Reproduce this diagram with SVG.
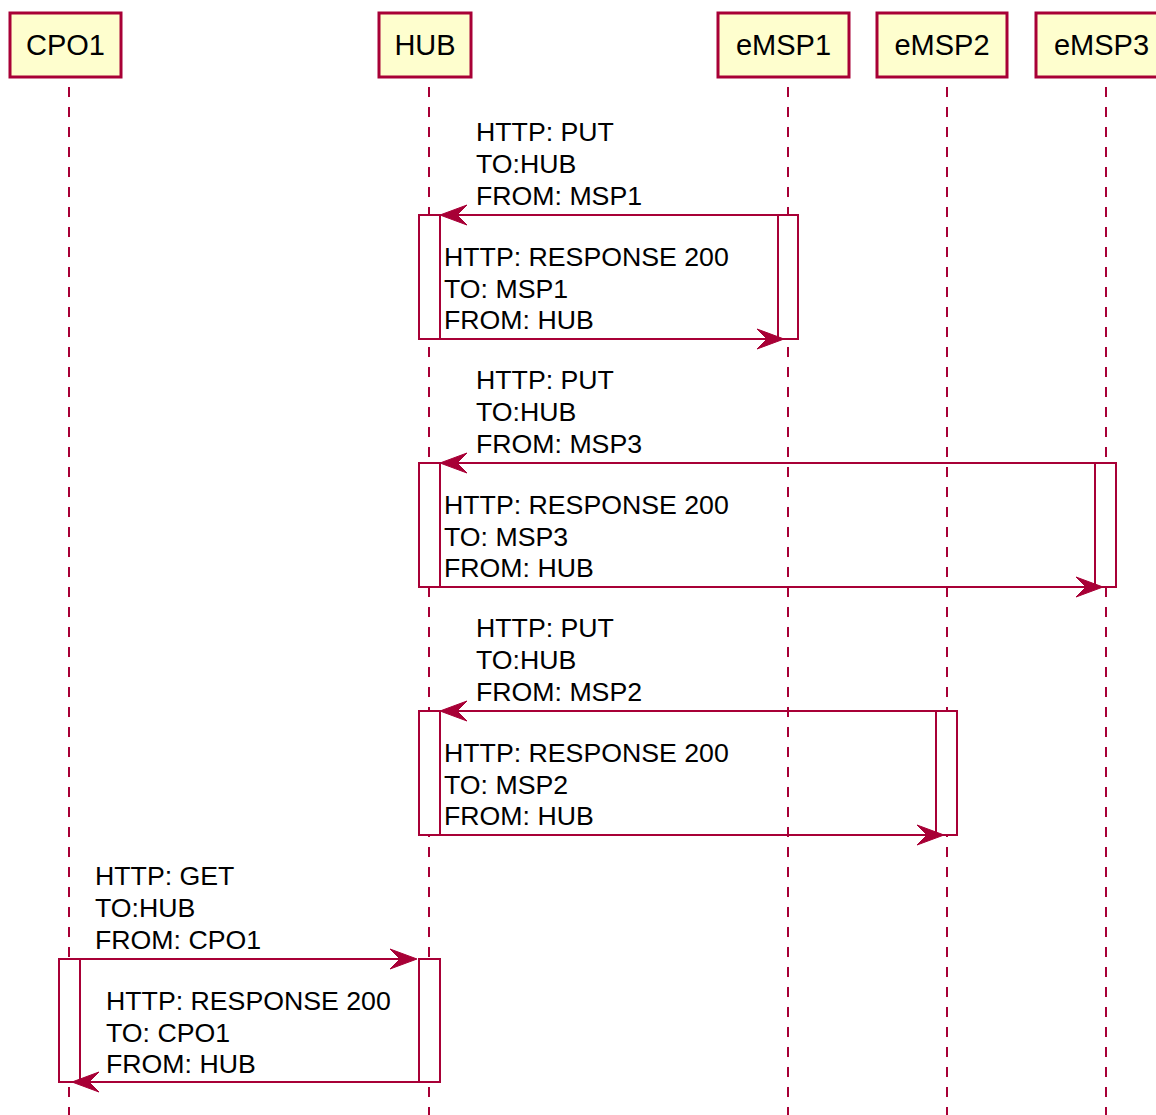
<svg xmlns="http://www.w3.org/2000/svg" width="1156" height="1115" viewBox="0 0 1156 1115">
<defs>
<style>
.part rect{fill:#FEFECE;stroke:#A80036;stroke-width:3}
.part text{font-family:"Liberation Sans",Arial,sans-serif;font-size:29px;fill:#000;text-anchor:middle}
.life{stroke:#A80036;stroke-width:2;stroke-dasharray:10 10;fill:none}
.act{fill:#FFFFFF;stroke:#A80036;stroke-width:2}
.msg{stroke:#A80036;stroke-width:2;fill:none}
.head{fill:#A80036;stroke:#A80036;stroke-width:1}
.lbl{font-family:"Liberation Sans",Arial,sans-serif;font-size:26.7px;fill:#000}
</style>
</defs>
<rect width="1156" height="1115" fill="#FFFFFF"/>
<g id="lifelines">
<line class="life" x1="69" y1="87" x2="69" y2="1115"/>
<line class="life" x1="429" y1="87" x2="429" y2="1115"/>
<line class="life" x1="788" y1="87" x2="788" y2="1115"/>
<line class="life" x1="947" y1="87" x2="947" y2="1115"/>
<line class="life" x1="1106" y1="87" x2="1106" y2="1115"/>
</g>
<g id="CPO1" class="part"><rect x="10" y="13" width="111" height="64"/><text x="65.5" y="55">CPO1</text></g>
<g id="HUB" class="part"><rect x="379" y="13" width="92" height="64"/><text x="425" y="55">HUB</text></g>
<g id="eMSP1" class="part"><rect x="718" y="13" width="131" height="64"/><text x="783.5" y="55">eMSP1</text></g>
<g id="eMSP2" class="part"><rect x="877" y="13" width="130" height="64"/><text x="942" y="55">eMSP2</text></g>
<g id="eMSP3" class="part"><rect x="1036" y="13" width="131" height="64"/><text x="1101.5" y="55">eMSP3</text></g>
<g id="activations">
<rect class="act" x="419" y="215" width="21" height="124"/>
<rect class="act" x="778" y="215" width="20" height="124"/>
<rect class="act" x="419" y="463" width="21" height="124"/>
<rect class="act" x="1095" y="463" width="21" height="124"/>
<rect class="act" x="419" y="711" width="21" height="124"/>
<rect class="act" x="936" y="711" width="21" height="124"/>
<rect class="act" x="59" y="959" width="21" height="123"/>
<rect class="act" x="419" y="959" width="21" height="123"/>
</g>
<g id="connectors">
<line class="msg" x1="778" y1="215" x2="442" y2="215"/>
<polygon class="head" points="440,215 467,205 457,215 467,225"/>
<line class="msg" x1="440" y1="339" x2="781" y2="339"/>
<polygon class="head" points="784,339 757,329 767,339 757,349"/>
<line class="msg" x1="1095" y1="463" x2="442" y2="463"/>
<polygon class="head" points="440,463 467,453 457,463 467,473"/>
<line class="msg" x1="440" y1="587" x2="1100" y2="587"/>
<polygon class="head" points="1103,587 1076,577 1086,587 1076,597"/>
<line class="msg" x1="936" y1="711" x2="442" y2="711"/>
<polygon class="head" points="440,711 467,701 457,711 467,721"/>
<line class="msg" x1="440" y1="835" x2="941" y2="835"/>
<polygon class="head" points="944,835 917,825 927,835 917,845"/>
<line class="msg" x1="80" y1="959" x2="414" y2="959"/>
<polygon class="head" points="417,959 390,949 400,959 390,969"/>
<line class="msg" x1="419" y1="1082" x2="75" y2="1082"/>
<polygon class="head" points="72,1082 99,1072 89,1082 99,1092"/>
</g>
<g id="labels" class="lbl">
<text x="476" y="140.5">HTTP: PUT</text>
<text x="476" y="172.5">TO:HUB</text>
<text x="476" y="204.5">FROM: MSP1</text>
<text x="444" y="265.5">HTTP: RESPONSE 200</text>
<text x="444" y="297.5">TO: MSP1</text>
<text x="444" y="328.5">FROM: HUB</text>
<text x="476" y="388.5">HTTP: PUT</text>
<text x="476" y="420.5">TO:HUB</text>
<text x="476" y="452.5">FROM: MSP3</text>
<text x="444" y="513.5">HTTP: RESPONSE 200</text>
<text x="444" y="545.5">TO: MSP3</text>
<text x="444" y="576.5">FROM: HUB</text>
<text x="476" y="636.5">HTTP: PUT</text>
<text x="476" y="668.5">TO:HUB</text>
<text x="476" y="700.5">FROM: MSP2</text>
<text x="444" y="761.5">HTTP: RESPONSE 200</text>
<text x="444" y="793.5">TO: MSP2</text>
<text x="444" y="824.5">FROM: HUB</text>
<text x="95" y="884.5">HTTP: GET</text>
<text x="95" y="916.5">TO:HUB</text>
<text x="95" y="948.5">FROM: CPO1</text>
<text x="106" y="1009.5">HTTP: RESPONSE 200</text>
<text x="106" y="1041.5">TO: CPO1</text>
<text x="106" y="1072.5">FROM: HUB</text>
</g>
</svg>
